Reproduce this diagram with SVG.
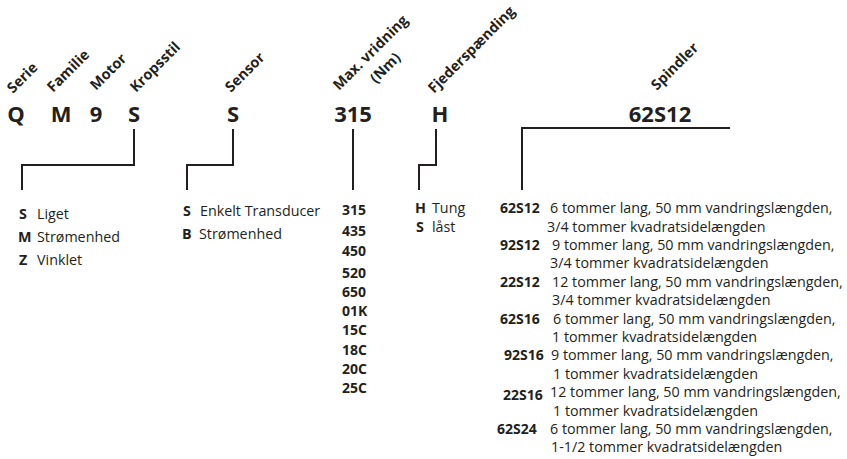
<svg xmlns="http://www.w3.org/2000/svg" width="847" height="459" viewBox="0 0 847 459">
<style>
text{font-family:"Open Sans","Noto Sans","Liberation Sans",sans-serif;fill:#231f20}
.lab{font-size:14.5px;font-weight:700}
.big{font-size:22px;font-weight:700;text-anchor:middle}
.b{font-weight:700}
.t{font-size:14.3px}
.c{font-size:14px;font-weight:700}
.conn path{fill:none;stroke:#231f20;stroke-width:2}
</style>
<rect width="847" height="459" fill="#fff"/>
<g id="labels">
<text class="lab" transform="translate(13,94) rotate(-45)">Serie</text>
<text class="lab" transform="translate(53,93) rotate(-45)">Familie</text>
<text class="lab" transform="translate(96,91) rotate(-45)">Motor</text>
<text class="lab" transform="translate(136,93) rotate(-45)">Kropsstil</text>
<text class="lab" transform="translate(231,93) rotate(-45)">Sensor</text>
<text class="lab" transform="translate(339,91) rotate(-45)">Max. vridning</text>
<text class="lab" transform="translate(376,84) rotate(-45)">(Nm)</text>
<text class="lab" transform="translate(434,94) rotate(-45)">Fjederspænding</text>
<text class="lab" transform="translate(657,91) rotate(-45)">Spindler</text>
</g>
<g id="code">
<text class="big" x="16" y="122">Q</text>
<text class="big" x="61" y="122">M</text>
<text class="big" x="96" y="122">9</text>
<text class="big" x="134" y="122">S</text>
<text class="big" x="233" y="122">S</text>
<text class="big" x="353" y="122">315</text>
<text class="big" x="440" y="122">H</text>
<text class="big" x="660" y="122">62S12</text>
</g>
<g class="conn" id="connectors">
<path d="M134,129V165H22V190"/>
<path d="M233,129V165H187V190"/>
<path d="M353,129V190"/>
<path d="M436,129V165H419V190"/>
<path d="M730,128H522V190"/>
</g>
<g id="kropsstil" class="t">
<text x="19" y="219"><tspan class="b">S</tspan><tspan x="37">Liget</tspan></text>
<text x="18" y="242"><tspan class="b">M</tspan><tspan x="37">Strømenhed</tspan></text>
<text x="19" y="265"><tspan class="b">Z</tspan><tspan x="37">Vinklet</tspan></text>
</g>
<g id="sensor" class="t">
<text x="183" y="216"><tspan class="b">S</tspan><tspan x="200">Enkelt Transducer</tspan></text>
<text x="182" y="239"><tspan class="b">B</tspan><tspan x="199">Strømenhed</tspan></text>
</g>
<g id="vridning" class="c">
<text x="342" y="215">315</text>
<text x="342" y="236">435</text>
<text x="342" y="256">450</text>
<text x="342" y="278">520</text>
<text x="342" y="297">650</text>
<text x="342" y="316">01K</text>
<text x="342" y="335">15C</text>
<text x="342" y="355">18C</text>
<text x="342" y="374">20C</text>
<text x="342" y="393">25C</text>
</g>
<g id="fjeder" class="t">
<text x="415" y="213"><tspan class="b">H</tspan><tspan x="432">Tung</tspan></text>
<text x="416" y="232"><tspan class="b">S</tspan><tspan x="432">låst</tspan></text>
</g>
<g id="spindler" class="t">
<text class="c" x="500" y="213">62S12</text>
<text x="550" y="213">6 tommer lang, 50 mm vandringslængden,</text>
<text x="547" y="231.5">3/4 tommer kvadratsidelængden</text>
<text class="c" x="500" y="250">92S12</text>
<text x="552" y="250">9 tommer lang, 50 mm vandringslængden,</text>
<text x="550" y="268">3/4 tommer kvadratsidelængden</text>
<text class="c" x="500" y="286.5">22S12</text>
<text x="552" y="286.5">12 tommer lang, 50 mm vandringslængden,</text>
<text x="552" y="305">3/4 tommer kvadratsidelængden</text>
<text class="c" x="500" y="323.5">62S16</text>
<text x="553" y="323.5">6 tommer lang, 50 mm vandringslængden,</text>
<text x="552" y="342">1 tommer kvadratsidelængden</text>
<text class="c" x="504" y="360">92S16</text>
<text x="551" y="360">9 tommer lang, 50 mm vandringslængden,</text>
<text x="553" y="378.5">1 tommer kvadratsidelængden</text>
<text class="c" x="503" y="400">22S16</text>
<text x="550" y="397">12 tommer lang, 50 mm vandringslængden,</text>
<text x="553" y="415.5">1 tommer kvadratsidelængden</text>
<text class="c" x="497" y="434">62S24</text>
<text x="550" y="434">6 tommer lang, 50 mm vandringslængden,</text>
<text x="551" y="452">1-1/2 tommer kvadratsidelængden</text>
</g>
</svg>
